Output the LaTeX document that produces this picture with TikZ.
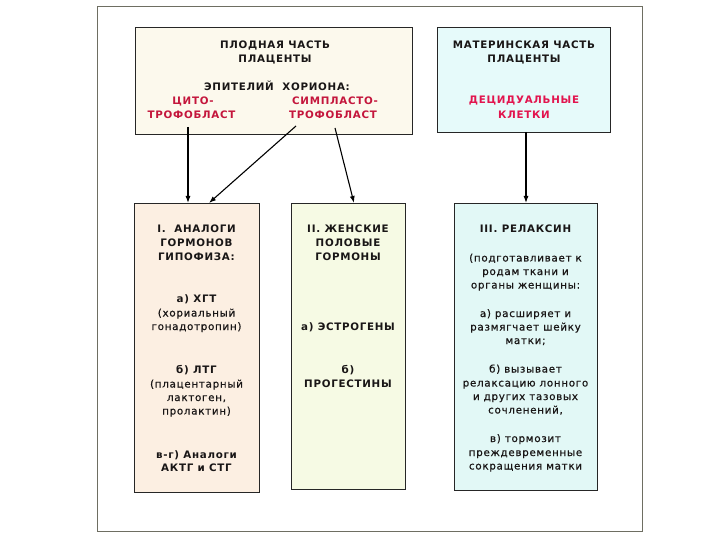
\documentclass[tikz,border=0pt]{standalone}
\usepackage{fontspec}
\setmainfont{DejaVu Sans}[LetterSpace=7]
\newfontfamily\medfont{DejaVu Sans}[LetterSpace=7, FakeBold=0.6]
\usetikzlibrary{arrows.meta}
\definecolor{ink}{RGB}{25,22,22}
\definecolor{redtxt}{RGB}{196,22,60}
\definecolor{pinktxt}{RGB}{226,20,78}
\definecolor{fillA}{RGB}{252,249,237}
\definecolor{fillB}{RGB}{230,250,250}
\definecolor{fillC}{RGB}{252,239,226}
\definecolor{fillD}{RGB}{246,250,228}
\definecolor{fillE}{RGB}{226,248,246}
\definecolor{framec}{RGB}{110,110,98}
\tikzset{
  lbl/.style={anchor=base, inner sep=0pt, text=ink, font=\fontsize{10.3}{12}\medfont},
  captxt/.style={anchor=base, inner sep=0pt, text=ink, font=\fontsize{10.3}{12}\selectfont\bfseries},
  box/.style={draw=black!85, line width=0.9pt, anchor=north west, inner sep=0pt},
  arr/.style={draw=black, line width=1.1pt, -{Latex[length=7pt,width=5pt]}},
  framestyle/.style={draw=framec, line width=0.8pt}
}
\begin{document}
\begin{tikzpicture}[x=1pt,y=-1pt]
\useasboundingbox (0,0) rectangle (720,540);
\fill[white] (0,0) rectangle (720,540);
\draw[framestyle] (97,6) rectangle (642,531);

% boxes
\node[box, fill=fillA, minimum width=277pt, minimum height=107pt] (top) at (135,27) {};
\node[box, fill=fillB, minimum width=173pt, minimum height=105pt] (mat) at (437,27) {};
\node[box, fill=fillC, minimum width=125pt, minimum height=289pt] (b1) at (134,203) {};
\node[box, fill=fillD, minimum width=114pt, minimum height=286pt] (b2) at (291,203) {};
\node[box, fill=fillE, minimum width=143pt, minimum height=287pt] (b3) at (454,203) {};

% top box text
\node[captxt] (t1) at (275,48.5) {ПЛОДНАЯ ЧАСТЬ};
\node[captxt] (t2) at (275,62.5) {ПЛАЦЕНТЫ};
\node[captxt] (t3) at (277,91) {ЭПИТЕЛИЙ\ \ ХОРИОНА:};
\node[captxt, text=redtxt] (t4) at (193,104.5) {ЦИТО-};
\node[captxt, text=redtxt] (t5) at (191.5,119) {ТРОФОБЛАСТ};
\node[captxt, text=redtxt] (t6) at (335,104.5) {СИМПЛАСТО-};
\node[captxt, text=redtxt] (t7) at (333,119) {ТРОФОБЛАСТ};

% maternal box text
\node[captxt] (r1) at (524,48.5) {МАТЕРИНСКАЯ ЧАСТЬ};
\node[captxt] (r2) at (524,62.5) {ПЛАЦЕНТЫ};
\node[captxt, text=pinktxt] (r3) at (524,104) {ДЕЦИДУАЛЬНЫЕ};
\node[captxt, text=pinktxt] (r4) at (524,118.5) {КЛЕТКИ};

% box I
\node[captxt] (a1) at (196.5,233) {I.\ \ АНАЛОГИ};
\node[captxt] (a2) at (196.5,246.5) {ГОРМОНОВ};
\node[captxt] (a3) at (196.5,260) {ГИПОФИЗА:};
\node[captxt] (a4) at (196.5,302.5) {а) ХГТ};
\node[lbl] (a5) at (196.5,316.5) {(хориальный};
\node[lbl] (a6) at (196.5,330) {гонадотропин)};
\node[captxt] (a7) at (196.5,373.5) {б) ЛТГ};
\node[lbl] (a8) at (196.5,387.5) {(плацентарный};
\node[lbl] (a9) at (196.5,401) {лактоген,};
\node[lbl] (a10) at (196.5,414.5) {пролактин)};
\node[captxt] (a11) at (196.5,458) {в-г) Аналоги};
\node[captxt] (a12) at (196.5,471.5) {АКТГ и СТГ};

% box II
\node[captxt] (c1) at (348,233) {II. ЖЕНСКИЕ};
\node[captxt] (c2) at (348,246.5) {ПОЛОВЫЕ};
\node[captxt] (c3) at (348,260) {ГОРМОНЫ};
\node[captxt] (c4) at (348,330.5) {а) ЭСТРОГЕНЫ};
\node[captxt] (c5) at (348,373.5) {б)};
\node[captxt] (c6) at (348,387.5) {ПРОГЕСТИНЫ};

% box III
\node[captxt] (d1) at (525.5,233) {III. РЕЛАКСИН};
\node[lbl] (d2) at (525.5,261.5) {(подготавливает к};
\node[lbl] (d3) at (525.5,275) {родам ткани и};
\node[lbl] (d4) at (525.5,288.5) {органы женщины:};
\node[lbl] (d5) at (525.5,317) {а) расширяет и};
\node[lbl] (d6) at (525.5,330.5) {размягчает шейку};
\node[lbl] (d7) at (525.5,344) {матки;};
\node[lbl] (d8) at (525.5,372.5) {б) вызывает};
\node[lbl] (d9) at (525.5,386.5) {релаксацию лонного};
\node[lbl] (d10) at (525.5,400) {и других тазовых};
\node[lbl] (d11) at (525.5,413.5) {сочленений,};
\node[lbl] (d12) at (525.5,442) {в) тормозит};
\node[lbl] (d13) at (525.5,456) {преждевременные};
\node[lbl] (d14) at (525.5,469.5) {сокращения матки};

% connectors
\coordinate (s1) at (188,127);
\coordinate (s2) at (296,126);
\coordinate (e2) at (209,203);
\coordinate (s3) at (335,128);
\coordinate (e3) at (354,203);
\coordinate (s4) at (526,132);
\draw[arr] (s1) -- (s1 |- b1.north);
\draw[arr] (s2) -- (e2);
\draw[arr] (s3) -- (e3);
\draw[arr] (s4) -- (s4 |- b3.north);
\end{tikzpicture}
\end{document}
